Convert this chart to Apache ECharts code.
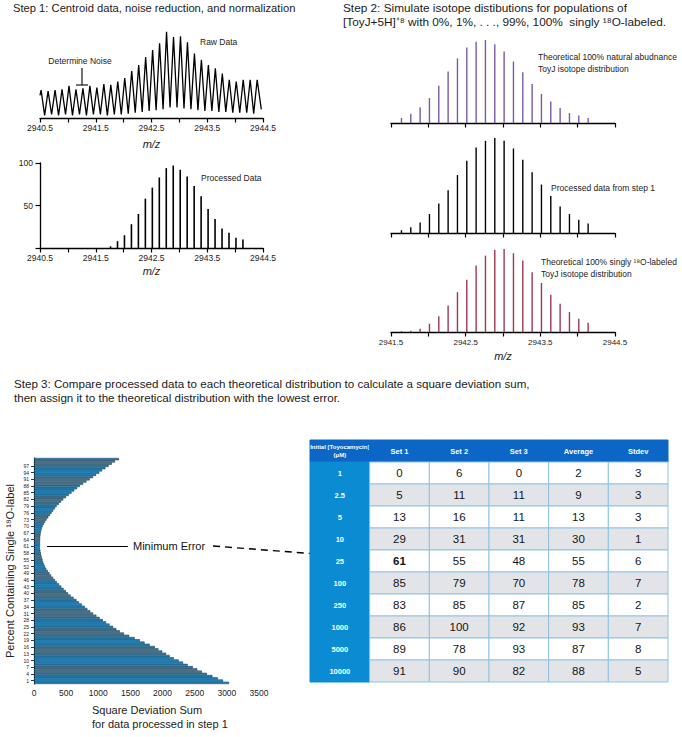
<!DOCTYPE html>
<html><head><meta charset="utf-8">
<script src="https://cdn.jsdelivr.net/npm/echarts@6/dist/echarts.min.js"></script>
<style>html,body{margin:0;padding:0;background:#fff}#c{width:682px;height:737px}</style>
</head><body><div id="c"></div>
<script>
const FONT = '"Liberation Sans", Arial, Helvetica, sans-serif';
const NARROW = '"Liberation Sans Narrow", "Liberation Sans", Arial, sans-serif';

// ---- Step 1: raw profile (interleaved peaks/troughs) ----
const rawMz = [2940.500,
 2940.520,2940.583, 2940.645,2940.708, 2940.770,2940.833, 2940.895,2940.958,
 2941.020,2941.083, 2941.145,2941.208, 2941.270,2941.333, 2941.395,2941.458,
 2941.520,2941.583, 2941.645,2941.708, 2941.770,2941.833, 2941.895,2941.958,
 2942.020,2942.083, 2942.145,2942.208, 2942.270,2942.333, 2942.395,2942.458,
 2942.520,2942.583, 2942.645,2942.708, 2942.770,2942.833, 2942.895,2942.958,
 2943.020,2943.083, 2943.145,2943.208, 2943.270,2943.333, 2943.395,2943.458,
 2943.520,2943.583, 2943.645,2943.708, 2943.770,2943.833, 2943.895,2943.958,
 2944.020,2944.083, 2944.145,2944.208, 2944.270,2944.333, 2944.395,2944.470];
const rawInt = [26,
 32,3, 31,4, 32,3, 33,4, 37,3, 33,4, 34,3, 37,4,
 35,4, 39,3, 38,4, 42,4, 46,5, 54,6, 61,7, 70,8,
 78,9, 86,10, 99,12, 93,12, 94,11, 87,10, 74,9, 67,8,
 61,8, 57,7, 51,7, 44,6, 42,6, 44,6, 44,5, 44,10];

// ---- Step 1: processed centroids ----
const procMz = [2941.765,2941.890,2942.015,2942.140,2942.265,2942.390,2942.515,2942.640,2942.765,2942.890,
 2943.015,2943.140,2943.265,2943.390,2943.515,2943.640,2943.765,2943.890,2944.015,2944.140];
const procInt = [2,8,15,28,40,58,71,83,94,97,92,84,73,61,46,34,23,18,12,10];

// ---- Step 2: distributions ----
const theoMz = [2941.640,2941.765,2941.890,2942.015,2942.140,2942.265,2942.390,2942.515,2942.640,2942.765,2942.890,
 2943.015,2943.140,2943.265,2943.390,2943.515,2943.640,2943.765,2943.890,2944.015,2944.140];
const naturalInt = [6,11,19,30,45,62,78,91,98,100,95,86,74,61,47,35,26,18,12,9,6];
const processedInt = [3,6,11,20,31,45,61,76,90,97,100,97,89,77,64,51,39,28,20,14,10];
const labeledInt = [1,1.5,4,10,19,32,48,63,80,92,99,100,95,86,72,59,45,34,24,16,11];

// ---- Step 3: square deviation sums, 0..100 % labeled ----
const percentCats = ['0','1','2','3','4','5','6','7','8','9','10','11','12','13','14','15','16','17','18','19',
 '20','21','22','23','24','25','26','27','28','29','30','31','32','33','34','35','36','37','38','39',
 '40','41','42','43','44','45','46','47','48','49','50','51','52','53','54','55','56','57','58','59',
 '60','61','62','63','64','65','66','67','68','69','70','71','72','73','74','75','76','77','78','79',
 '80','81','82','83','84','85','86','87','88','89','90','91','92','93','94','95','96','97','98','99','100'];
const sqDevSum = [3034,2940,2860,2775,2690,2610,2540,2470,2390,2320,
 2250,2175,2110,2055,1995,1935,1880,1800,1720,1645,
 1565,1480,1400,1335,1280,1230,1175,1120,1070,1020,
 970,920,875,830,790,745,700,660,615,570,
 530,495,460,425,390,355,325,295,265,240,
 215,190,170,155,142,132,122,113,105,99,
 95,92,93,93,95,97,100,104,112,122,
 134,152,173,196,222,248,273,298,325,351,
 385,420,455,497,540,583,626,669,712,764,
 815,867,918,965,1015,1060,1110,1160,1210,1260,1320];
const minErrorCat = '61';

// ---- Table ----
const tableHeader = ['Initial [Toyocamycin]\n(μM)','Set 1','Set 2','Set 3','Average','Stdev'];
const concentrations = ['1','2.5','5','10','25','100','250','1000','5000','10000'];
const set1 = [0,5,13,29,61,85,83,86,89,91];
const set2 = [6,11,16,31,55,79,85,100,78,90];
const set3 = [0,11,11,31,48,70,87,92,93,82];
const average = [2,9,13,30,55,78,85,93,87,88];
const stdev = [3,3,3,1,6,7,2,7,8,5];
const boldRow = 4; // 25 μM, Set 1

const valueCols = [set1,set2,set3,average,stdev];
const tableCells = [];
for (let c = 0; c < tableHeader.length; c++) tableCells.push({col:c,row:0,text:tableHeader[c],kind:'head'});
for (let r = 0; r < concentrations.length; r++) tableCells.push({col:0,row:r+1,text:concentrations[r],kind:'conc'});
for (let r = 0; r < concentrations.length; r++)
  for (let c = 0; c < valueCols.length; c++)
    tableCells.push({col:c+1,row:r+1,text:String(valueCols[c][r]),kind:'body',bold:(r===boldRow && c===0)});

const pairs = (xs, ys) => xs.map((x,i)=>[x, ys[i]]);

function mzAxis(gridIndex, min, max, showLabels, nameGap, labelMargin, fs){
  return {
    type:'value', gridIndex, min, max, interval:0.5,
    axisLine:{show:true, onZero:false, lineStyle:{color:'#000', width:1.3}},
    axisTick:{show:true, length:4.5, lineStyle:{color:'#000', width:1.2}},
    splitLine:{show:false},
    axisLabel:{show:showLabels, margin:labelMargin, fontSize:fs, color:'#222', fontFamily:FONT,
      showMinLabel:true, showMaxLabel:true,
      formatter:(v)=> { const f = (v - min) % 1; return (Math.abs(f) < 1e-6 || Math.abs(f - 1) < 1e-6) ? v.toFixed(1) : ''; }},
    name: nameGap ? 'm/z' : '', nameLocation:'middle', nameGap: nameGap || 0,
    nameTextStyle:{fontStyle:'italic', fontSize:11, color:'#222', fontFamily:FONT}
  };
}
function hiddenY(gridIndex, max){
  return {type:'value', gridIndex, min:0, max, show:false, splitLine:{show:false}};
}
function sticks(xi, data, color, w){
  return {type:'custom', xAxisIndex:xi, yAxisIndex:xi, data, silent:true,
    renderItem:(params, api)=>{
      const top = api.coord([api.value(0), api.value(1)]);
      const base = api.coord([api.value(0), 0]);
      return {type:'line', shape:{x1:top[0], y1:top[1], x2:base[0], y2:base[1]},
        style:{stroke:color, lineWidth:w}};
    }};
}

const chart = echarts.init(document.getElementById('c'), null, {renderer:'svg'});
const ts = (fs)=>({fontSize:fs, fontWeight:'normal', color:'#1a1a1a', fontFamily:FONT, lineHeight:14});
chart.setOption({
  animation:false,
  backgroundColor:'#fff',
  title:[
    {text:'Step 1: Centroid data, noise reduction, and normalization', left:13, top:1, padding:0, textStyle:ts(11.2)},
    {text:'Step 2: Simulate isotope distibutions for populations of\n[ToyJ+5H]⁺⁸ with 0%, 1%, . . ., 99%, 100%  singly ¹⁸O-labeled.', left:343, top:1, padding:0, textStyle:ts(11.8)},
    {text:'Step 3: Compare processed data to each theoretical distribution to calculate a square deviation sum,\nthen assign it to the theoretical distribution with the lowest error.', left:14, top:376, padding:0, textStyle:ts(11.6)}
  ],
  grid:[
    {left:40, top:31, width:223, height:87, outerBoundsMode:'none'},
    {left:40, top:163, width:223, height:85, outerBoundsMode:'none'},
    {left:391, top:40, width:224, height:83, outerBoundsMode:'none'},
    {left:391, top:138, width:224, height:95, outerBoundsMode:'none'},
    {left:391, top:249, width:224, height:83, outerBoundsMode:'none'},
    {left:34, top:458, width:225, height:226, outerBoundsMode:'none'},
    {left:310, top:440, width:358, height:242, outerBoundsMode:'none'}
  ],
  xAxis:[
    mzAxis(0, 2940.5, 2944.5, true, 20, 5, 8.5),
    mzAxis(1, 2940.5, 2944.5, true, 17, 5, 8.5),
    mzAxis(2, 2941.5, 2944.5, false, 0, 5, 8),
    mzAxis(3, 2941.5, 2944.5, false, 0, 5, 8),
    mzAxis(4, 2941.5, 2944.5, true, 18, 6, 8),
    {type:'value', gridIndex:5, min:0, max:3500, interval:500,
      axisLine:{show:false}, axisTick:{show:false}, splitLine:{show:false},
      axisLabel:{margin:4, fontSize:8.5, color:'#222', fontFamily:FONT, formatter:(v)=>String(v)}},
    {type:'category', gridIndex:6, data:tableHeader, show:false}
  ],
  yAxis:[
    hiddenY(0, 100),
    {type:'value', gridIndex:1, min:0, max:100, interval:50,
      axisLine:{show:true, lineStyle:{color:'#000', width:1.3}},
      axisTick:{show:true, length:4.5, lineStyle:{color:'#000', width:1.2}},
      splitLine:{show:false},
      axisLabel:{margin:7, fontSize:8.5, color:'#222', fontFamily:FONT, formatter:(v)=> v===0 ? '' : String(v)}},
    hiddenY(2, 100),
    hiddenY(3, 100),
    hiddenY(4, 100),
    {type:'category', gridIndex:5, data:percentCats,
      axisLine:{show:true, lineStyle:{color:'#000', width:1}},
      axisTick:{show:true, alignWithLabel:true, length:3, interval:(i)=> i%3===1 && i<100, lineStyle:{color:'#000', width:0.8}},
      axisLabel:{interval:(i)=> i%3===1 && i<100, fontSize:5, margin:5, color:'#222', fontFamily:FONT},
      name:'Percent Containing Single ¹⁸O-label', nameLocation:'middle', nameGap:19,
      nameTextStyle:{fontSize:11, color:'#222', fontFamily:FONT}},
    {type:'category', gridIndex:6, data:['header'].concat(concentrations), inverse:true, show:false}
  ],
  series:[
    {type:'line', xAxisIndex:0, yAxisIndex:0, data:pairs(rawMz, rawInt), showSymbol:false, symbol:'none',
      lineStyle:{color:'#000', width:1.3}, silent:true},
    sticks(1, pairs(procMz, procInt), '#000', 1.6),
    sticks(2, pairs(theoMz, naturalInt), '#7b5aa8', 1.4),
    sticks(3, pairs(theoMz, processedInt), '#000', 1.4),
    sticks(4, pairs(theoMz, labeledInt), '#a13552', 1.4),
    {type:'bar', xAxisIndex:5, yAxisIndex:5, data:sqDevSum, barWidth:'100%',
      itemStyle:{color:'#2a8cc4', borderColor:'#0e2838', borderWidth:0.5}, silent:true,
      markLine:{silent:true, symbol:'none', label:{show:false},
        lineStyle:{color:'#000', width:1.2, type:'solid'},
        data:[[{coord:[202, minErrorCat]}, {coord:[1460, minErrorCat]}]]}},
    {type:'custom', xAxisIndex:6, yAxisIndex:6, silent:true,
      data: tableCells.map(d=>[d.col, d.row]),
      renderItem:function(params, api){
        const cell = tableCells[params.dataIndex];
        const p = api.coord([api.value(0), api.value(1)]);
        const s = api.size([1,1]);
        let fill, stroke, color, font, lh = 12;
        if (cell.kind === 'head') {
          fill = '#0b66c6'; stroke = fill; color = '#fff';
          font = cell.col === 0 ? 'bold 6px ' + FONT : 'bold 7.5px ' + FONT; lh = 8;
        } else if (cell.kind === 'conc') {
          fill = '#0a8bd2'; stroke = fill; color = '#fff'; font = 'bold 7.5px ' + FONT;
        } else {
          fill = cell.row % 2 === 0 ? '#e2e4e8' : '#ffffff'; stroke = '#8ec3e3'; color = '#151515';
          font = (cell.bold ? 'bold ' : '') + '11.5px ' + NARROW;
        }
        return {type:'group', children:[
          {type:'rect', shape:{x:p[0]-s[0]/2, y:p[1]-s[1]/2, width:s[0], height:s[1]},
            style:{fill, stroke, lineWidth:1}},
          {type:'text', style:{text:cell.text, x:p[0], y:p[1], align:'center', verticalAlign:'middle',
            fill:color, font, lineHeight:lh}}
        ]};
      }}
  ],
  graphic:[
    {type:'text', x:200, y:42, style:{text:'Raw Data', fontSize:8.5, fontFamily:FONT, fill:'#222', verticalAlign:'middle'}},
    {type:'text', x:80, y:61, style:{text:'Determine Noise', fontSize:8.5, fontFamily:FONT, fill:'#222', align:'center', verticalAlign:'middle'}},
    {type:'line', shape:{x1:82, y1:68, x2:82, y2:85}, style:{stroke:'#000', lineWidth:1.1}},
    {type:'line', shape:{x1:76, y1:85, x2:88, y2:85}, style:{stroke:'#000', lineWidth:1.1}},
    {type:'text', x:201, y:178, style:{text:'Processed Data', fontSize:8.5, fontFamily:FONT, fill:'#222', verticalAlign:'middle'}},
    {type:'text', x:538, y:63, style:{text:'Theoretical 100% natural abudnance\nToyJ isotope distribution', fontSize:8.5, lineHeight:12, fontFamily:FONT, fill:'#222', verticalAlign:'middle'}},
    {type:'text', x:551, y:188, style:{text:'Processed data from step 1', fontSize:8.5, fontFamily:FONT, fill:'#222', verticalAlign:'middle'}},
    {type:'text', x:541, y:268, style:{text:'Theoretical 100% singly ¹⁸O-labeled\nToyJ isotope distribution', fontSize:8.5, lineHeight:12, fontFamily:FONT, fill:'#222', verticalAlign:'middle'}},
    {type:'text', x:133, y:546, style:{text:'Minimum Error', fontSize:11, fontFamily:FONT, fill:'#111', verticalAlign:'middle'}},
    {type:'line', shape:{x1:213, y1:546, x2:382, y2:559}, style:{stroke:'#000', lineWidth:1.4, lineDash:[7,5]}},
    {type:'text', x:92, y:717, style:{text:'Square Deviation Sum\nfor data processed in step 1', fontSize:11, lineHeight:14, fontFamily:FONT, fill:'#222', verticalAlign:'middle'}}
  ]
});
</script>
</body></html>
